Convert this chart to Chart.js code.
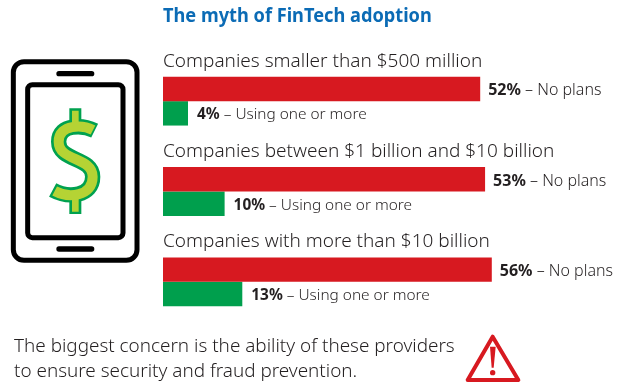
<!DOCTYPE html>
<html>
<head>
<meta charset="utf-8">
<title>The myth of FinTech adoption</title>
<script src="https://cdn.jsdelivr.net/npm/chart.js@4"></script>
<style>
  html, body { margin: 0; padding: 0; background: #fff; }
  #wrap { position: relative; width: 618px; height: 386px; overflow: hidden; }
  svg { position: absolute; }
</style>
</head>
<body>
<div id="wrap">
  <canvas id="fintechChart" width="618" height="386"></canvas>

  <!-- phone icon -->
  <svg style="left:0;top:40px" width="160" height="240" viewBox="0 0 480 720" fill="none">
    <rect x="40" y="65" width="371" height="596" rx="32" stroke="#000" stroke-width="15"/>
    <rect x="83" y="134" width="286" height="459" rx="14" stroke="#000" stroke-width="15"/>
    <path d="M177 101H275M177 627H275" stroke="#000" stroke-width="16" stroke-linecap="round"/>
    <path d="M226 205V255M226 475V522" stroke="#00a14f" stroke-width="36"/>
    <path d="M284 272C250 255 176 250 176 305C176 365 278 350 278 410C278 470 205 475 158 450" stroke="#00a14f" stroke-width="46"/>
    <path d="M226 212V258M226 472V515" stroke="#b5d334" stroke-width="20"/>
    <path d="M279 270C250 255 176 250 176 305C176 365 278 350 278 410C278 470 205 475 164 453" stroke="#b5d334" stroke-width="30"/>
  </svg>

  <!-- warning icon -->
  <svg style="left:455px;top:325px" width="75" height="61" viewBox="0 0 225 183" fill="none">
    <path d="M113 35L190 165H38Z" stroke="#d71920" stroke-width="12" stroke-linejoin="round"/>
    <path d="M105 65H122L116 128H110Z" fill="#d71920"/>
    <circle cx="113" cy="143" r="8" fill="#d71920"/>
  </svg>
</div>

<script>
// ============================================================
// DATA
// ============================================================

const chartTitle = "The myth of FinTech adoption";

const categories = [
  "Companies smaller than $500 million",
  "Companies between $1 billion and $10 billion",
  "Companies with more than $10 billion"
];

// Bar lengths as they are drawn in the picture
const noPlansBars = [52, 52.8, 53.9];
const usingBars = [4.1, 10.1, 13];

// Percentages as they are printed next to the bars
const noPlansLabels = ["52%", "53%", "56%"];
const usingLabels = ["4%", "10%", "13%"];

const noPlansName = "No plans";
const usingName = "Using one or more";

const footerLines = [
  "The biggest concern is the ability of these providers",
  "to ensure security and fraud prevention."
];

// ============================================================
// TEXT PLUGIN
// ============================================================

const FONT = "'Noto Sans'";
const TEXT_COLOR = "#231f20";

function drawBarLabel(ctx, x, y, percent, name, size) {
  ctx.fillStyle = TEXT_COLOR;
  ctx.font = "700 " + size + "px " + FONT;
  ctx.fillText(percent, x, y);
  const w = ctx.measureText(percent).width;
  ctx.font = "300 " + size + "px " + FONT;
  ctx.fillText(" – " + name, x + w, y);
}

const textPlugin = {
  id: "textPlugin",
  afterDatasetsDraw(chart) {
    const ctx = chart.ctx;
    const yScale = chart.scales.y;
    ctx.save();
    ctx.textAlign = "left";
    ctx.textBaseline = "alphabetic";

    // the title is narrower than the Noto bold at this height
    ctx.save();
    ctx.translate(163, 22);
    ctx.scale(0.92, 1);
    ctx.fillStyle = "#0b6bb5";
    ctx.font = "700 19.8px " + FONT;
    ctx.fillText(chartTitle, 0, 0);
    ctx.restore();

    categories.forEach(function(name, i) {
      ctx.fillStyle = TEXT_COLOR;
      ctx.font = "300 19px " + FONT;
      ctx.fillText(name, 163, yScale.getPixelForTick(i) - 34.5);

      const red = chart.getDatasetMeta(0).data[i];
      const green = chart.getDatasetMeta(1).data[i];
      drawBarLabel(ctx, red.x + 8, red.y + 6.5, noPlansLabels[i], noPlansName, 16);
      drawBarLabel(ctx, green.x + 9, green.y + 6, usingLabels[i], usingName, 15.4);
    });

    ctx.fillStyle = TEXT_COLOR;
    ctx.font = "300 18.9px " + FONT;
    ctx.fillText(footerLines[0], 14, 352);
    ctx.fillText(footerLines[1], 14, 377);
    ctx.restore();
  }
};

// ============================================================
// CHART.JS
// ============================================================

const ctx = document.getElementById("fintechChart").getContext("2d");

const fintechChart = new Chart(ctx, {
  type: "bar",
  data: {
    labels: categories,
    datasets: [
      {
        label: noPlansName,
        data: noPlansBars,
        backgroundColor: "#d71920",
        categoryPercentage: 0.54,
        barPercentage: 1
      },
      {
        label: usingName,
        data: usingBars,
        backgroundColor: "#009f4d",
        categoryPercentage: 0.54,
        barPercentage: 1
      }
    ]
  },
  options: {
    indexAxis: "y",
    responsive: false,
    animation: false,
    layout: {
      padding: { left: 163, right: 28, top: 56, bottom: 59 }
    },
    plugins: {
      legend: { display: false },
      title: { display: false },
      tooltip: { enabled: false }
    },
    scales: {
      x: { display: false, min: 0, max: 70 },
      y: { display: false }
    }
  },
  plugins: [textPlugin]
});
</script>
</body>
</html>
